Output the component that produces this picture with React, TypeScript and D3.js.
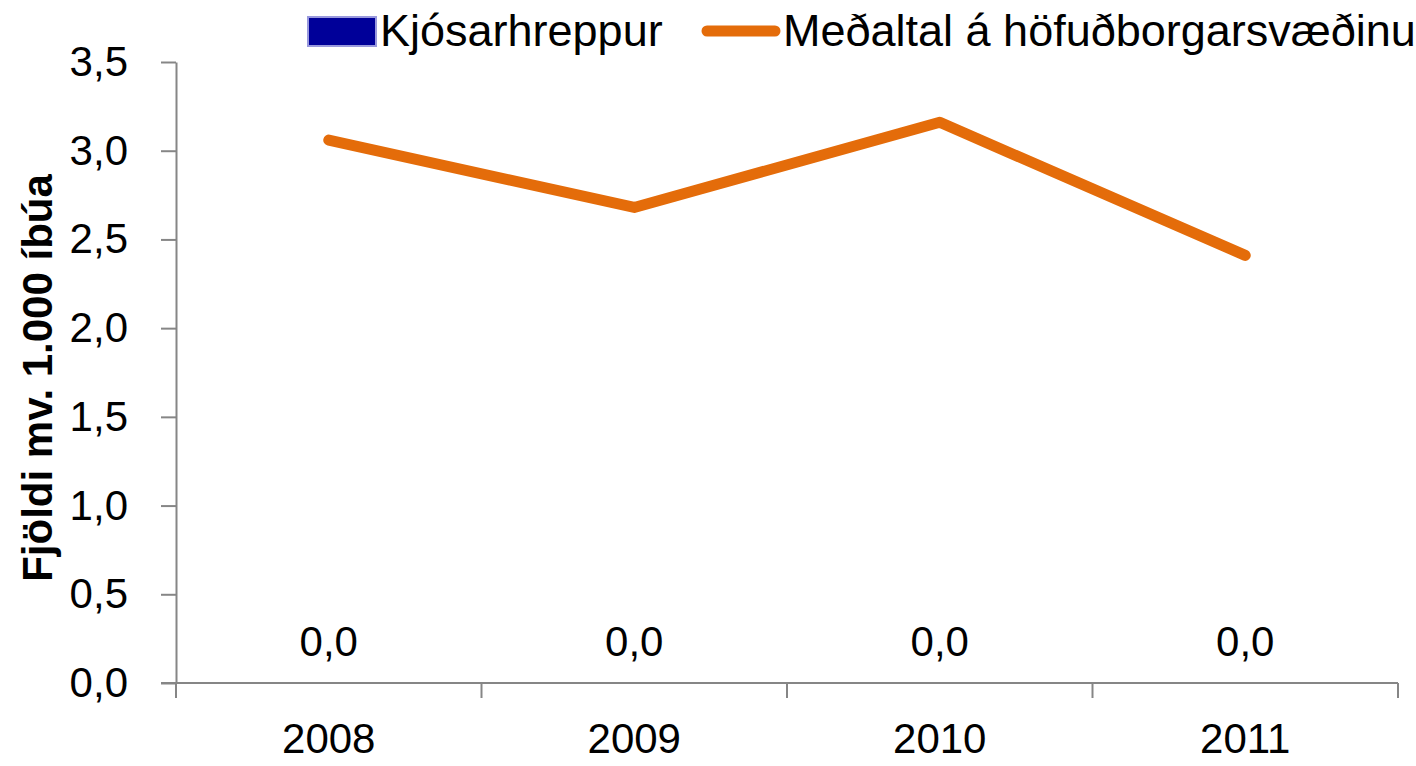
import * as d3 from 'd3';
import { useEffect, useRef } from 'react';

const years = ['2008', '2009', '2010', '2011'];
const kjosarhreppur = [0, 0, 0, 0];
const medaltal = [3.06, 2.68, 3.16, 2.41];
const yTicks = [0, 0.5, 1, 1.5, 2, 2.5, 3, 3.5];

const FONT = '"Liberation Sans Narrow", "Liberation Sans", sans-serif';

const App = () => {
  const ref = useRef<SVGSVGElement | null>(null);

  useEffect(() => {
    document.body.style.margin = '0';
    const svg = d3.select(ref.current);
    svg.selectAll('*').remove();

    const left = 176, right = 1398, top = 62, bottom = 683;
    const fmt = (v: number) => d3.format('.1f')(v).replace('.', ',');

    const x = d3.scaleBand().domain(years).range([left, right]);
    const y = d3.scaleLinear().domain([0, 3.5]).range([bottom, top]);

    // Y axis
    const yAxis = svg
      .append('g')
      .attr('transform', `translate(${left},0)`)
      .call(d3.axisLeft(y).tickValues(yTicks).tickSize(15).tickSizeOuter(0).tickPadding(33).tickFormat((d) => fmt(d as number)));
    yAxis.select('.domain').attr('stroke', '#868686').attr('stroke-width', 2);
    yAxis.selectAll('.tick line').attr('stroke', '#868686').attr('stroke-width', 2);
    yAxis.selectAll('.tick text').attr('fill', '#000').style('font-family', FONT).style('font-size', '42px');

    // X axis
    const xAxis = svg
      .append('g')
      .attr('transform', `translate(0,${bottom})`)
      .call(d3.axisBottom(x).tickSize(0).tickPadding(40));
    xAxis.select('.domain').remove();
    xAxis.append('line').attr('x1', left - 15).attr('x2', right).attr('stroke', '#868686').attr('stroke-width', 2);
    xAxis
      .selectAll('line.sep')
      .data([...years.map((d) => x(d) as number), right])
      .join('line')
      .attr('class', 'sep')
      .attr('x1', (d) => d)
      .attr('x2', (d) => d)
      .attr('y1', 0)
      .attr('y2', 15)
      .attr('stroke', '#868686')
      .attr('stroke-width', 2);
    xAxis.selectAll('.tick text').attr('fill', '#000').style('font-family', FONT).style('font-size', '42px');

    const cx = (d: string) => (x(d) as number) + x.bandwidth() / 2;

    // Kjósarhreppur data labels (values are zero)
    svg
      .append('g')
      .selectAll('text')
      .data(kjosarhreppur)
      .join('text')
      .attr('x', (_, i) => cx(years[i]))
      .attr('y', (d) => y(d) - 27)
      .attr('text-anchor', 'middle')
      .style('font-family', FONT)
      .style('font-size', '42px')
      .text((d) => fmt(d));

    // Line
    const line = d3
      .line<number>()
      .x((_, i) => cx(years[i]))
      .y((d) => y(d));
    svg
      .append('path')
      .datum(medaltal)
      .attr('d', line)
      .attr('fill', 'none')
      .attr('stroke', '#e46c0a')
      .attr('stroke-width', 11)
      .attr('stroke-linecap', 'round')
      .attr('stroke-linejoin', 'round');

    // Y axis title
    svg
      .append('text')
      .attr('transform', `translate(52,378) rotate(-90)`)
      .attr('text-anchor', 'middle')
      .style('font-family', FONT)
      .style('font-size', '42px')
      .style('font-weight', 'bold')
      .text('Fjöldi mv. 1.000 íbúa');

    // Legend
    const lg = svg.append('g');
    lg.append('rect')
      .attr('x', 308)
      .attr('y', 17)
      .attr('width', 68)
      .attr('height', 29)
      .attr('fill', '#000099')
      .attr('stroke', '#9999dd')
      .attr('stroke-width', 2);
    lg.append('text')
      .attr('x', 380)
      .attr('y', 46)
      .style('font-family', FONT)
      .style('font-size', '45px')
      .text('Kjósarhreppur');
    lg.append('line')
      .attr('x1', 707)
      .attr('x2', 775)
      .attr('y1', 31)
      .attr('y2', 31)
      .attr('stroke', '#e46c0a')
      .attr('stroke-width', 11)
      .attr('stroke-linecap', 'round');
    lg.append('text')
      .attr('x', 783)
      .attr('y', 46)
      .style('font-family', FONT)
      .style('font-size', '45px')
      .text('Meðaltal á höfuðborgarsvæðinu');
  }, []);

  return <svg ref={ref} width={1416} height={766} style={{ display: 'block' }}></svg>;
};

export default App;
